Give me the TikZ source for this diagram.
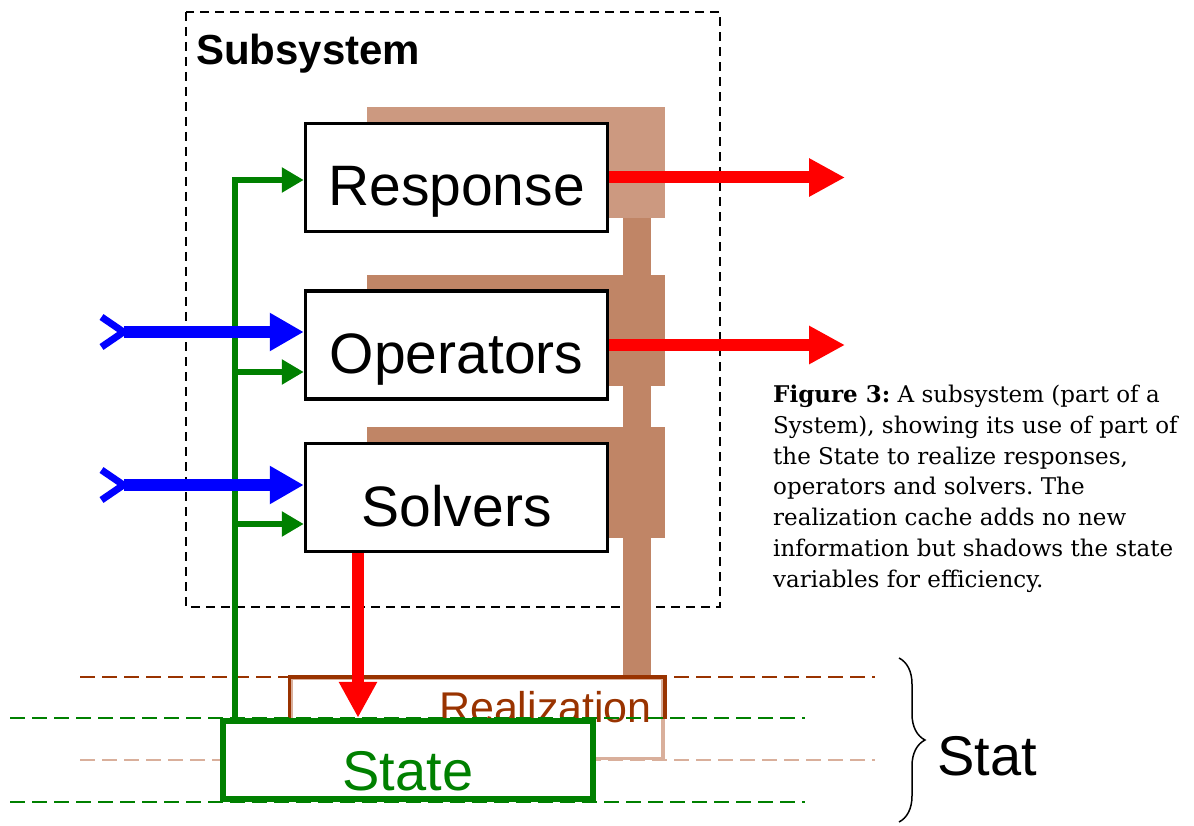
\documentclass[tikz,border=0pt]{standalone}
\usepackage{fontspec}
\setmainfont{Liberation Serif}
\setsansfont{Liberation Sans}
\newfontfamily\captionfont{DejaVu Serif}
\usetikzlibrary{arrows.meta,decorations.pathreplacing}
\definecolor{cachelight}{RGB}{204,153,128}
\definecolor{cache}{RGB}{192,133,102}
\definecolor{realdark}{RGB}{153,51,0}
\definecolor{realpale}{RGB}{217,175,155}
\definecolor{stategreen}{RGB}{0,128,0}
\begin{document}
\begin{tikzpicture}[x=1pt, y=-1pt, line join=miter,
    block/.style={draw, line width=3.5pt, fill=white, minimum width=302pt, minimum height=108pt, inner sep=0pt, text height=57pt, text depth=0pt, font=\fontsize{57}{60}\sffamily},
    realbox/.style={draw=realpale, line width=3.5pt, minimum width=372pt, minimum height=80pt, inner sep=0pt},
    statebox/.style={draw=stategreen, line width=6.5pt, fill=white, minimum width=370pt, minimum height=78pt, inner sep=0pt, text=stategreen, text height=60pt, text depth=0pt, font=\fontsize{56}{58}\sffamily},
    layerline/.style={dash pattern=on 15pt off 7pt, line width=2pt},
    redarrow/.style={draw=red, line width=12pt, -{Triangle[length=36pt,width=36pt]}},
    bluearrow/.style={draw=blue, line width=12pt, {Straight Barb[reversed,length=22pt,width=30pt,line width=7pt]}-{Triangle[length=34pt,width=36pt]}},
    greenarrow/.style={draw=stategreen, line width=6.5pt, -{Triangle[length=22pt,width=24pt]}}]
  \useasboundingbox (0,0) rectangle (1194,826);

  % subsystem frame
  \draw[dash pattern=on 9pt off 6pt, line width=2pt] (186,12) rectangle (720,607);
  \node[anchor=base west, inner sep=0pt, font=\fontsize{42}{44}\sffamily\bfseries] (subtitle) at (196,65) {Subsystem};

  % realization cache behind the boxes
  \fill[cachelight] (367,107) rectangle (665,218);
  \fill[cache] (367,275) rectangle (665,386);
  \fill[cache] (367,427) rectangle (665,538);
  \fill[cache] (623,218) rectangle (651,677);

  \node[block] (resp) at (456.5,177.5) {Response};
  \node[block] (ops) at (456.5,345) {Operators};
  \node[block] (solv) at (456.5,497.5) {Solvers};

  % state layers
  \draw[layerline, realdark] (80,677) -- (875,677);
  \draw[layerline, realpale] (80,760) -- (875,760);

  \node[realbox] (real) at (477,718.5) {};
  \draw[realdark, line width=3.5pt] (real.west) -- (real.north west) -- (real.north east) -- (real.east);
  \node[anchor=base east, inner sep=0pt, text=realdark, font=\fontsize{43}{45}\sffamily] (realtext) at (652,722) {Realization};

  \draw[layerline, stategreen] (10,718) -- (805,718);
  \draw[layerline, stategreen] (10,802) -- (805,802);

  \node[statebox] (state) at (408,760) {State};

  % inputs from the state
  \coordinate (gresp) at (235,180);
  \coordinate (gops) at (235,372);
  \coordinate (gsolv) at (235,524);
  \draw[greenarrow] (state.north -| gresp) -- (gresp) -- (gresp -| resp.west);
  \draw[greenarrow] (gops) -- (gops -| ops.west);
  \draw[greenarrow] (gsolv) -- (gsolv -| solv.west);

  % inputs from outside
  \coordinate (opsin) at (98,332);
  \coordinate (solvin) at (98,485);
  \draw[bluearrow] (opsin) -- (opsin -| ops.west);
  \draw[bluearrow] (solvin) -- (solvin -| solv.west);

  % outputs
  \coordinate (respout) at (845,177.5);
  \coordinate (opsout) at (845,345);
  \coordinate (solvout) at (358,0);
  \draw[redarrow] (resp.east) -- (respout);
  \draw[redarrow] (ops.east) -- (opsout);
  \draw[redarrow] (solv.south -| solvout) -- (state.north -| solvout);

  \draw[line width=1.5pt, decorate, decoration={brace, amplitude=26pt}] (899,658) -- (899,822);
  \node[anchor=base west, inner sep=0pt, font=\fontsize{56}{58}\sffamily] (stat) at (937,775) {Stat};

  \node[anchor=base west, align=left, inner sep=0pt, font=\captionfont\fontsize{23}{30.7}\selectfont\frenchspacing] (caption) at (773,587) {\textbf{Figure 3:} A subsystem (part of a\\System), showing its use of part of\\the State to realize responses,\\operators and solvers. The\\realization cache adds no new\\information but shadows the state\\variables for efficiency.};
\end{tikzpicture}
\end{document}
